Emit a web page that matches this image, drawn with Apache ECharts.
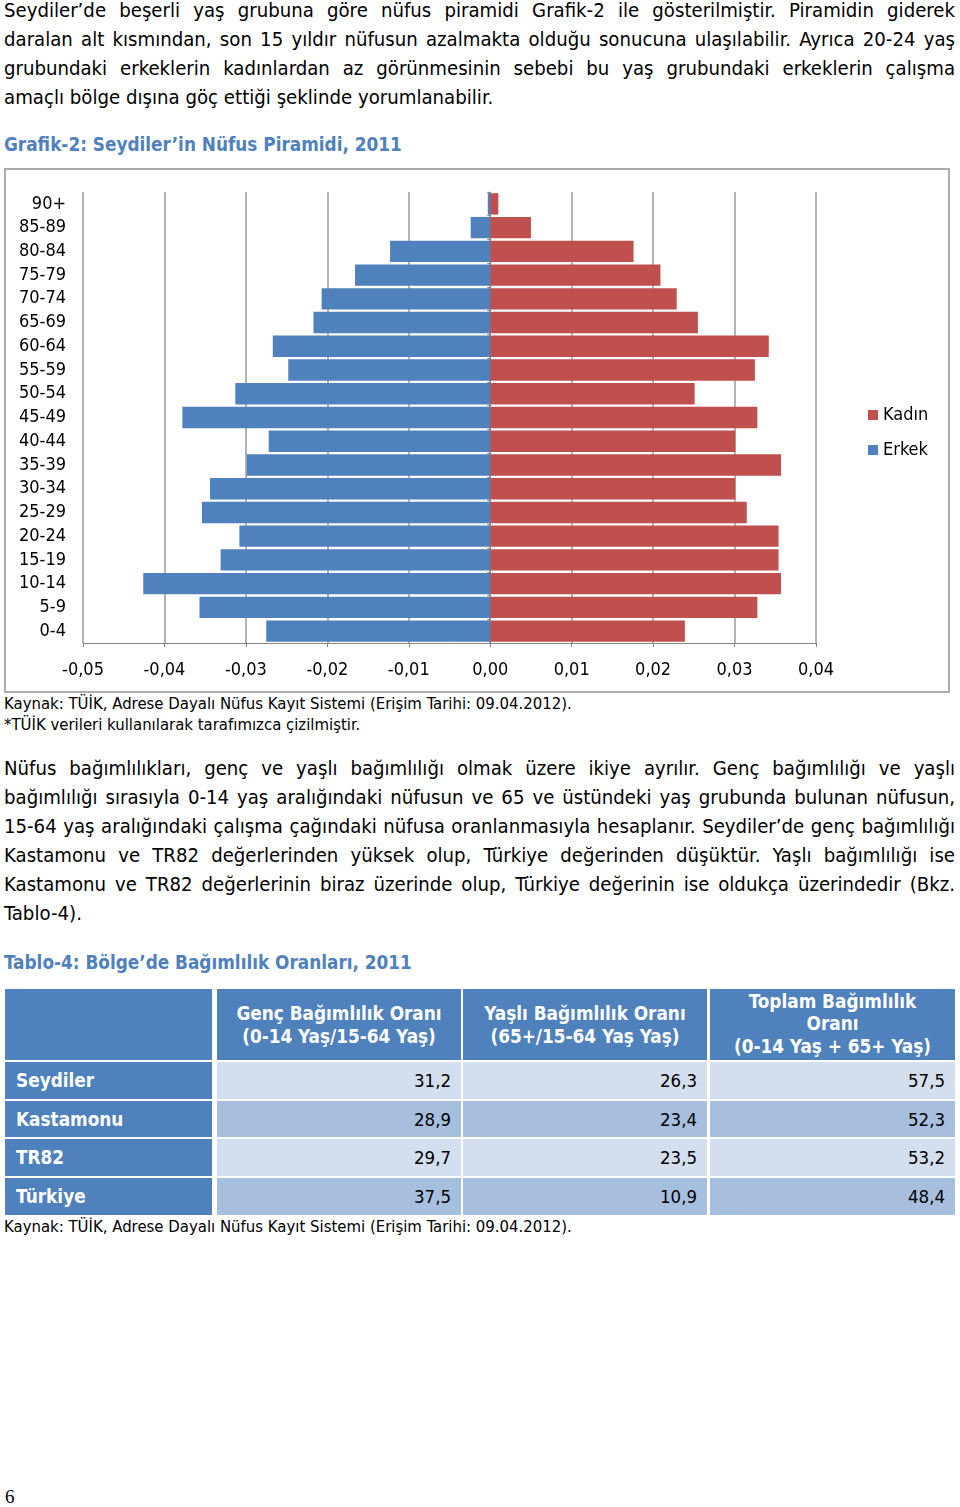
<!DOCTYPE html>
<html lang="tr">
<head>
<meta charset="utf-8">
<script src="https://cdn.jsdelivr.net/npm/echarts@6/dist/echarts.min.js"></script>
<style>
  html, body { margin:0; padding:0; background:#fff; }
  body { width:960px; height:1507px; position:relative; overflow:hidden;
         font-family:"DejaVu Sans Condensed","DejaVu Sans",sans-serif; font-stretch:condensed; color:#000; }
  .abs { position:absolute; }
  .ln { position:absolute; left:4px; width:951px; font-size:20.2px; line-height:29px; white-space:nowrap;
        text-align:justify; text-align-last:justify; }
  .ln.last { text-align:left; text-align-last:left; }
  .cap { left:4px; font-size:18.8px; line-height:29px; font-weight:bold; color:#4F81BD; white-space:nowrap; }
  .src { left:4px; font-size:16.6px; line-height:21px; white-space:nowrap; }
  .cell { box-sizing:border-box; font-size:18.5px; display:flex; align-items:center; white-space:nowrap; }
  #frame { left:4px; top:168px; width:946px; height:525px; box-sizing:border-box; border:2px solid #acacac; }
  #chart { left:4px; top:168px; width:946px; height:525px; }
</style>
</head>
<body>
<div id="para1"></div>
<div class="abs cap" style="top:130px">Grafik-2: Seydiler’in Nüfus Piramidi, 2011</div>
<div id="frame" class="abs"></div>
<div id="chart" class="abs"></div>
<div class="abs src" style="top:693px">Kaynak: TÜİK, Adrese Dayalı Nüfus Kayıt Sistemi (Erişim Tarihi: 09.04.2012).<br>*TÜİK verileri kullanılarak tarafımızca çizilmiştir.</div>
<div id="para2"></div>
<div class="abs cap" style="top:948px">Tablo-4: Bölge’de Bağımlılık Oranları, 2011</div>
<div id="table"></div>
<div class="abs src" style="top:1216px">Kaynak: TÜİK, Adrese Dayalı Nüfus Kayıt Sistemi (Erişim Tarihi: 09.04.2012).</div>
<div class="abs" style="left:5px;top:1485px;font-family:'Liberation Serif',serif;font-size:19px;line-height:24px;">6</div>
<script>
// ---- Chart data ----
const ageGroups = ['0-4','5-9','10-14','15-19','20-24','25-29','30-34','35-39','40-44','45-49','50-54','55-59','60-64','65-69','70-74','75-79','80-84','85-89','90+'];
const erkek = [-0.0275,-0.0357,-0.0426,-0.0331,-0.0308,-0.0354,-0.0344,-0.0299,-0.0272,-0.0378,-0.0313,-0.0248,-0.0267,-0.0217,-0.0207,-0.0166,-0.0123,-0.0024,-0.0003];
const kadin = [0.0239,0.0328,0.0357,0.0354,0.0354,0.0315,0.0301,0.0357,0.0301,0.0328,0.0251,0.0325,0.0342,0.0255,0.0229,0.0209,0.0176,0.0050,0.0010];
const seriesNames = ['Kadın','Erkek'];
const xMin = -0.05, xMax = 0.04, xStep = 0.01;

// ---- Table data ----
const tableHeaders = ['', 'Genç Bağımlılık Oranı<br>(0-14 Yaş/15-64 Yaş)', 'Yaşlı Bağımlılık Oranı<br>(65+/15-64 Yaş Yaş)', 'Toplam Bağımlılık<br>Oranı<br>(0-14 Yaş + 65+ Yaş)'];
const regions = ['Seydiler','Kastamonu','TR82','Türkiye'];
const gencOrani = [31.2, 28.9, 29.7, 37.5];
const yasliOrani = [26.3, 23.4, 23.5, 10.9];
const toplamOrani = [57.5, 52.3, 53.2, 48.4];

// ---- Body text (lines as in the page) ----
const para1Lines = [
  'Seydiler’de beşerli yaş grubuna göre nüfus piramidi Grafik-2 ile gösterilmiştir. Piramidin giderek',
  'daralan alt kısmından, son 15 yıldır nüfusun azalmakta olduğu sonucuna ulaşılabilir. Ayrıca 20-24 yaş',
  'grubundaki erkeklerin kadınlardan az görünmesinin sebebi bu yaş grubundaki erkeklerin çalışma',
  'amaçlı bölge dışına göç ettiği şeklinde yorumlanabilir.'
];
const para2Lines = [
  'Nüfus bağımlılıkları, genç ve yaşlı bağımlılığı olmak üzere ikiye ayrılır. Genç bağımlılığı ve yaşlı',
  'bağımlılığı sırasıyla 0-14 yaş aralığındaki nüfusun ve 65 ve üstündeki yaş grubunda bulunan nüfusun,',
  '15-64 yaş aralığındaki çalışma çağındaki nüfusa oranlanmasıyla hesaplanır. Seydiler’de genç bağımlılığı',
  'Kastamonu ve TR82 değerlerinden yüksek olup, Türkiye değerinden düşüktür. Yaşlı bağımlılığı ise',
  'Kastamonu ve TR82 değerlerinin biraz üzerinde olup, Türkiye değerinin ise oldukça üzerindedir (Bkz.',
  'Tablo-4).'
];
function writeLines(id, lines, top) {
  const host = document.getElementById(id);
  lines.forEach((t, i) => {
    const d = document.createElement('div');
    d.className = 'ln' + (i === lines.length - 1 ? ' last' : '');
    d.style.top = (top + i * 29) + 'px';
    const s = document.createElement('span');
    s.textContent = t;
    d.appendChild(s);
    host.appendChild(d);
    // shrink a line slightly if its natural width would overflow the column
    const w = s.getBoundingClientRect().width;
    if (w > 949) { d.style.fontSize = (20.2 * 949 / w).toFixed(2) + 'px'; }
  });
}
writeLines('para1', para1Lines, -4);
writeLines('para2', para2Lines, 754);

const FONT = '"DejaVu Sans Condensed","DejaVu Sans",sans-serif';
const fmt = v => (Math.abs(v) < 1e-9 ? 0 : v).toFixed(2).replace('.', ',');

const chart = echarts.init(document.getElementById('chart'), null, {renderer:'canvas'});
chart.setOption({
  animation:false,
  textStyle:{fontFamily:FONT},
  color:['#C0504D','#4F81BD'],
  legend:{
    data:seriesNames, orient:'vertical', left:859, top:232,
    icon:'rect', itemWidth:10, itemHeight:10, itemGap:15,
    textStyle:{fontSize:18, color:'#000', lineHeight:20, fontFamily:FONT}
  },
  grid:{left:79, right:134, top:24, bottom:50, containLabel:false},
  xAxis:{
    type:'value', min:xMin, max:xMax, interval:xStep,
    axisLine:{show:true, lineStyle:{color:'#868686', width:1}},
    axisTick:{show:true, length:4, lineStyle:{color:'#868686'}},
    splitLine:{show:true, lineStyle:{color:'#9a9a9a', width:1.5}},
    axisLabel:{fontSize:18, color:'#000', margin:18, formatter:fmt, fontFamily:FONT}
  },
  yAxis:[{
    type:'category', data:ageGroups,
    axisLine:{show:false, onZero:false}, axisTick:{show:false},
    axisLabel:{fontSize:18, color:'#000', margin:17, fontFamily:FONT}
  },{
    type:'category', data:ageGroups, position:'left',
    axisLine:{show:true, onZero:true, lineStyle:{color:'#868686'}},
    axisTick:{show:true, length:3, lineStyle:{color:'#868686'}},
    axisLabel:{show:false}
  }],
  series:[
    {name:'Kadın', type:'bar', stack:'p', data:kadin, barCategoryGap:'10%', itemStyle:{color:'#C0504D'}},
    {name:'Erkek', type:'bar', stack:'p', data:erkek, barCategoryGap:'10%', itemStyle:{color:'#4F81BD'}}
  ]
});

// ---- Table ----
const colLeft = [5, 217, 463, 710];
const colWidth = [207, 244, 244, 245];
const rowTop = [989, 1062, 1101, 1139, 1178];
const rowHeight = [71, 37, 36, 37, 37];
const valCols = [gencOrani, yasliOrani, toplamOrani];
const tbl = document.getElementById('table');
function cell(c, r, html, style) {
  const d = document.createElement('div');
  d.className = 'abs cell';
  d.style.left = colLeft[c] + 'px'; d.style.top = rowTop[r] + 'px';
  d.style.width = colWidth[c] + 'px'; d.style.height = rowHeight[r] + 'px';
  Object.assign(d.style, style);
  d.innerHTML = html;
  tbl.appendChild(d);
}
tableHeaders.forEach((h, c) => cell(c, 0, h, {background:'#4F81BD', color:'#fff', fontWeight:'bold', fontSize:'18.8px', justifyContent:'center', textAlign:'center', lineHeight:(c===3?'22.5px':'23px')}));
regions.forEach((name, i) => {
  const r = i + 1;
  cell(0, r, name, {background:'#4F81BD', color:'#fff', fontWeight:'bold', fontSize:'18.8px', paddingLeft:'11px'});
  valCols.forEach((arr, j) => cell(j + 1, r, arr[i].toFixed(1).replace('.', ','),
    {background:(i % 2 === 0 ? '#D3DFEE' : '#A7BFDE'), justifyContent:'flex-end', paddingRight:'10px'}));
});
</script>
</body>
</html>
